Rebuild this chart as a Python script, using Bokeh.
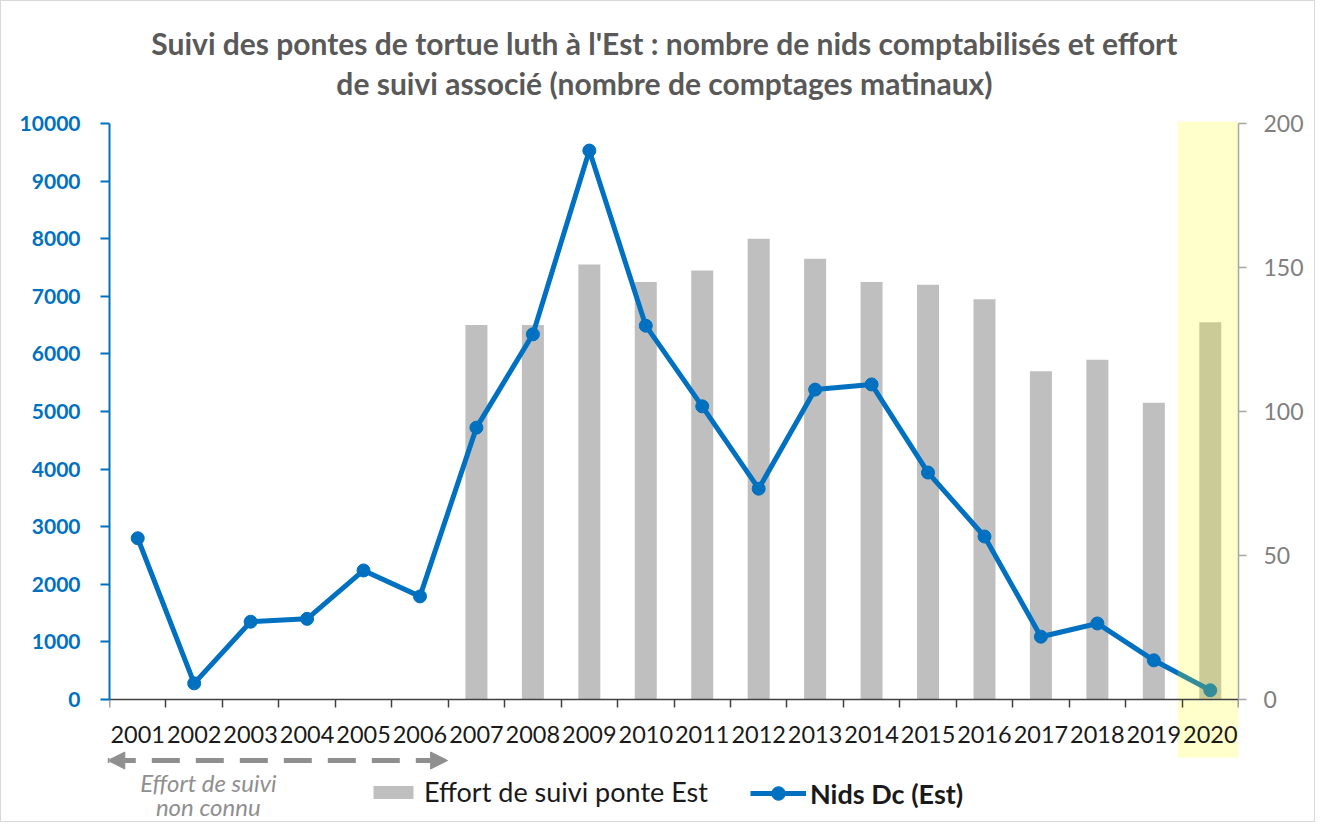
from bokeh.plotting import figure
from bokeh.models import (Range1d, LinearAxis, FixedTicker, Legend, LegendItem,
                          Arrow, NormalHead, Label, ColumnDataSource)
from bokeh.embed import file_html
from bokeh.resources import INLINE

# ---------------- data ----------------
years = [2001, 2002, 2003, 2004, 2005, 2006, 2007, 2008, 2009, 2010,
         2011, 2012, 2013, 2014, 2015, 2016, 2017, 2018, 2019, 2020]
nests = [2800, 280, 1350, 1400, 2240, 1790, 4720, 6340, 9530, 6490,
         5090, 3660, 5380, 5470, 3940, 2830, 1090, 1320, 680, 160]
effort_years = [2007, 2008, 2009, 2010, 2011, 2012, 2013, 2014, 2015, 2016,
                2017, 2018, 2019, 2020]
effort = [130, 130, 151, 145, 149, 160, 153, 145, 144, 139, 114, 118, 103, 131]
left_ticks = [0, 1000, 2000, 3000, 4000, 5000, 6000, 7000, 8000, 9000, 10000]
right_ticks = [0, 50, 100, 150, 200]
title_line1 = "Suivi des pontes de tortue luth à l'Est : nombre de nids comptabilisés et effort"
title_line2 = "de suivi associé (nombre de comptages matinaux)"
effort_label = "Effort de suivi ponte Est"
nests_label = "Nids Dc (Est)"
note_lines = ["Effort de suivi", "non connu"]
highlight_year = 2020
unknown_first, unknown_last = 2001, 2006

# ---------------- layout constants ----------------
FONT = "Lato"
BLUE = "#0070C0"
BAR = "#BFBFBF"
LEFT_MAX, RIGHT_MAX = 10000, 200
FRAME_W = 1129
PAGE_TOP, PAGE_BOTTOM, PAGE_ZERO = 9, 829, 707   # page y of frame top/bottom and of value 0
PX = 576 / LEFT_MAX                               # px per nest on the left axis
FRAME_H = PAGE_BOTTOM - PAGE_TOP


def ydata(page_y):
    """page pixel row -> left-axis data value"""
    return (PAGE_ZERO - page_y) / PX


Y_START, Y_END = ydata(PAGE_BOTTOM), ydata(PAGE_TOP)
R_START, R_END = Y_START * RIGHT_MAX / LEFT_MAX, Y_END * RIGHT_MAX / LEFT_MAX

idx = {y: i for i, y in enumerate(years)}
x_mid = (len(years) - 1) / 2.0

p = figure(title=None, frame_width=FRAME_W, frame_height=FRAME_H,
           x_range=Range1d(-0.5, len(years) - 0.5),
           y_range=Range1d(Y_START, Y_END),
           output_backend="svg", toolbar_location=None,
           min_border_left=108, min_border_right=76, min_border_top=0,
           min_border_bottom=0, background_fill_color="white",
           border_fill_color="white")
p.extra_y_ranges = {"right": Range1d(R_START, R_END)}
p.outline_line_color = None
p.xgrid.visible = False
p.ygrid.visible = False

# title (two centred lines)
for txt, py in ((title_line1, 50), (title_line2, 90)):
    p.add_layout(Label(x=x_mid - 0.17, y=ydata(py), text=txt, text_align="center",
                       text_baseline="middle", text_font=FONT, text_font_size="30px",
                       text_font_style="bold", text_color="#595959"))

# bars (right axis)
bar_src = ColumnDataSource(dict(x=[idx[y] for y in effort_years], top=effort))
bars = p.vbar(x="x", top="top", bottom=0, width=0.39, source=bar_src,
              fill_color=BAR, line_color=None, y_range_name="right")

# line + markers (left axis)
line_src = ColumnDataSource(dict(x=[idx[y] for y in years], y=nests))
ln = p.line(x="x", y="y", source=line_src, line_color=BLUE, line_width=5)
mk = p.scatter(x="x", y="y", source=line_src, size=13, fill_color=BLUE,
               line_color=BLUE)

# highlight of last year (overlay)
hi = idx[highlight_year]
p.quad(left=hi - 0.58, right=hi + 0.5, bottom=ydata(765), top=ydata(129),
       fill_color="#FFFF00", fill_alpha=0.2, line_color=None)

# x axis (categories between boundary ticks)
xa = p.xaxis[0]
xa.fixed_location = 0
xa.ticker = FixedTicker(ticks=[idx[y] for y in years],
                        minor_ticks=[i - 0.5 for i in range(len(years) + 1)])
xa.major_label_overrides = {idx[y]: str(y) for y in years}
xa.major_tick_out = 0
xa.major_tick_in = 0
xa.minor_tick_out = 8
xa.minor_tick_in = 0
xa.axis_line_color = "#404040"
xa.axis_line_width = 1.5
xa.minor_tick_line_color = "#404040"
xa.minor_tick_line_width = 1.5
xa.major_label_text_font = FONT
xa.major_label_text_font_size = "23.5px"
xa.major_label_text_color = "#1a1a1a"
xa.major_label_standoff = 18

# left axis
ya = p.yaxis[0]
ya.ticker = FixedTicker(ticks=left_ticks)
ya.bounds = (0, LEFT_MAX)
ya.axis_line_color = BLUE
ya.axis_line_width = 2
ya.major_tick_line_color = BLUE
ya.major_tick_line_width = 2
ya.major_tick_out = 9
ya.major_tick_in = 0
ya.minor_tick_line_color = None
ya.major_label_text_font = FONT
ya.major_label_text_font_size = "21px"
ya.major_label_text_font_style = "bold"
ya.major_label_text_color = BLUE
ya.major_label_standoff = 20

# right axis
ra = LinearAxis(y_range_name="right", ticker=FixedTicker(ticks=right_ticks),
                bounds=(0, RIGHT_MAX))
ra.axis_line_color = "#A6A6A6"
ra.axis_line_width = 1.5
ra.major_tick_line_color = "#A6A6A6"
ra.major_tick_line_width = 1.5
ra.major_tick_out = 8
ra.major_tick_in = 0
ra.minor_tick_line_color = None
ra.major_label_text_font = FONT
ra.major_label_text_font_size = "23px"
ra.major_label_text_color = "#808080"
ra.major_label_standoff = 17
p.add_layout(ra, "right")

# arrow "effort de suivi non connu"
GRAY = "#8F8F8F"
arrow_y = ydata(768)
p.add_layout(Arrow(x_start=idx[unknown_first] - 0.53, x_end=idx[unknown_last] + 0.49,
                   y_start=arrow_y, y_end=arrow_y,
                   start=NormalHead(size=17, fill_color=GRAY, line_color=GRAY),
                   end=NormalHead(size=17, fill_color=GRAY, line_color=GRAY),
                   line_color=GRAY, line_width=5, line_dash="28 16"))
for k, txt in enumerate(note_lines):
    p.add_layout(Label(x=1.25, y=ydata(790 + 24 * k), text=txt,
                       text_align="center", text_baseline="middle",
                       text_font=FONT, text_font_size="24px",
                       text_font_style="italic", text_color=GRAY))

# legends
common = dict(orientation="horizontal", padding=0, margin=0,
              border_line_color=None, background_fill_alpha=0,
              label_text_font=FONT, label_text_font_size="27px",
              label_text_color="#1a1a1a", label_height=30)
leg1 = Legend(items=[LegendItem(label=effort_label, renderers=[bars])],
              location=(259, 13), glyph_width=50, glyph_height=16,
              label_standoff=6, **common)
leg2 = Legend(items=[LegendItem(label=nests_label, renderers=[ln, mk])],
              location=(641, 11), glyph_width=56, glyph_height=34,
              label_standoff=4, label_text_font_style="bold", **common)
p.add_layout(leg1)
p.add_layout(leg2)

p.styles = {"border": "1px solid #D9D9D9"}

open("out.html", "w").write(file_html(p, INLINE))
